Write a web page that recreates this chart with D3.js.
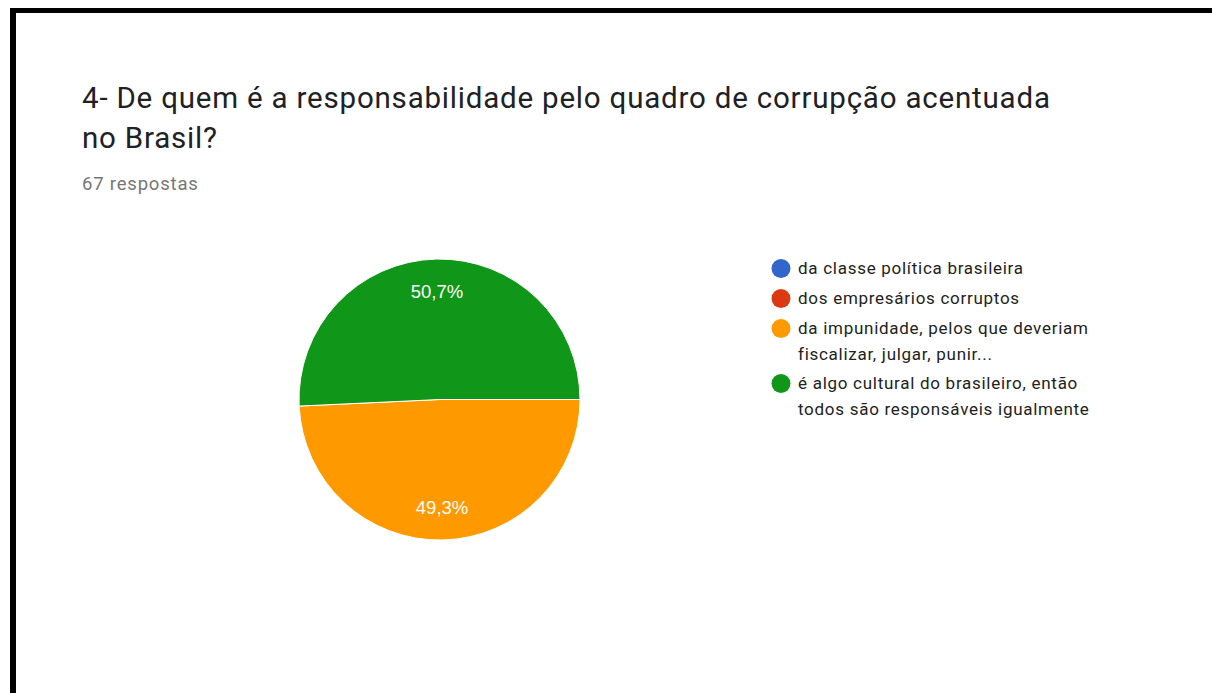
<!DOCTYPE html>
<html>
<head>
<meta charset="utf-8">
<script src="https://cdn.jsdelivr.net/npm/d3@7"></script>
<style>
  html, body { margin: 0; padding: 0; background: #fff; }
  svg { display: block; }
</style>
</head>
<body>
<svg id="chart" width="1212" height="693"></svg>
<script>
// Survey question and answer data
const title = ["4- De quem é a responsabilidade pelo quadro de corrupção acentuada", "no Brasil?"];
const subtitle = "67 respostas";
const categories = [
  ["da classe política brasileira"],
  ["dos empresários corruptos"],
  ["da impunidade, pelos que deveriam", "fiscalizar, julgar, punir..."],
  ["é algo cultural do brasileiro, então", "todos são responsáveis igualmente"]
];
const counts = [0, 0, 33, 34];
const colors = ["#3366cc", "#dc3912", "#ff9900", "#109618"];

const svg = d3.select("#chart");
const W = 1212, H = 693;

// card frame: thick black edges on top and left
svg.append("rect").attr("x", 0).attr("y", 0).attr("width", W).attr("height", H).attr("fill", "#fff");
svg.append("rect").attr("x", 10).attr("y", 8).attr("width", W - 10).attr("height", 5).attr("fill", "#000");
svg.append("rect").attr("x", 10).attr("y", 8).attr("width", 6).attr("height", H - 8).attr("fill", "#000");

// heading
const t = svg.append("text")
  .attr("x", 82).attr("y", 108)
  .attr("font-family", "Roboto, sans-serif").attr("font-size", 29.5)
  .attr("letter-spacing", 0.8)
  .attr("fill", "#202124");
t.selectAll("tspan").data(title).join("tspan")
  .attr("x", 82).attr("dy", (d, i) => i === 0 ? 0 : 39.5)
  .text(d => d);

svg.append("text")
  .attr("x", 82).attr("y", 189.5)
  .attr("font-family", "Roboto, sans-serif").attr("font-size", 18.5)
  .attr("letter-spacing", 0.8)
  .attr("fill", "#767676")
  .text(subtitle);

// pie
const cx = 439.5, cy = 399.5, R = 140.5;
const total = d3.sum(counts);
const pie = d3.pie().sort(null)
  .startAngle(Math.PI / 2).endAngle(Math.PI / 2 + 2 * Math.PI)
  .value(d => d);
const arcs = pie(counts);
const arc = d3.arc().innerRadius(0).outerRadius(R);
const labelArc = d3.arc().innerRadius(108).outerRadius(108);
const fmt = v => (v / total * 100).toFixed(1).replace(".", ",") + "%";

const g = svg.append("g").attr("transform", `translate(${cx},${cy})`);
g.selectAll("path").data(arcs.filter(a => a.value > 0)).join("path")
  .attr("d", arc)
  .attr("fill", d => colors[d.index])
  .attr("stroke", "#fff").attr("stroke-width", 1);

g.selectAll("text.pct").data(arcs.filter(a => a.value > 0)).join("text")
  .attr("class", "pct")
  .attr("transform", d => { const c = labelArc.centroid(d); return `translate(${c[0]},${c[1]})`; })
  .attr("text-anchor", "middle").attr("dy", "0.36em")
  .attr("font-family", "Arial, 'Liberation Sans', sans-serif").attr("font-size", 18.5)
  .attr("fill", "#fff")
  .text(d => fmt(d.value));

// legend
const rowY = [268.5, 298.5, 328.5, 383.5];
const lineGap = 25.5;
const lg = svg.append("g");
const items = lg.selectAll("g").data(categories).join("g")
  .attr("transform", (d, i) => `translate(781,${rowY[i]})`);
items.append("circle").attr("r", 9.5).attr("fill", (d, i) => colors[i]);
items.append("text")
  .attr("x", 17).attr("y", 0)
  .attr("font-family", "Roboto, sans-serif").attr("font-size", 17)
  .attr("letter-spacing", 0.72)
  .attr("fill", "#222")
  .selectAll("tspan").data(d => d).join("tspan")
  .attr("x", 17).attr("y", (d, i) => i * lineGap).attr("dy", "0.35em")
  .text(d => d);
</script>
</body>
</html>
